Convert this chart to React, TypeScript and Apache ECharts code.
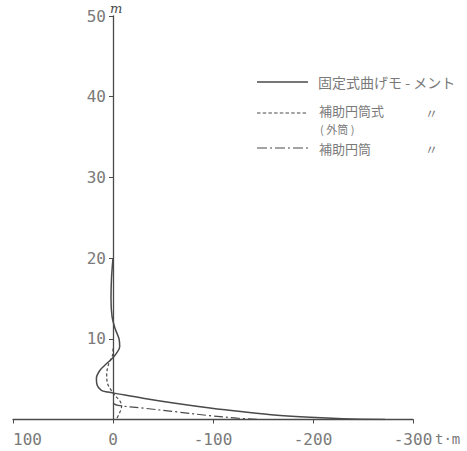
import React, { useEffect, useRef } from "react";
import * as echarts from "echarts";

// moment values (t·m) vs height (m)
const fixedMoment: [number, number][] = [
  [0, 20], [1.5, 17.5], [2, 15], [1, 12.8], [-2, 11.3], [-6, 10], [-6.7, 9.0],
  [-3.4, 8.2], [0.6, 7.6], [6.6, 6.9], [13, 6.1], [16.6, 5.1], [16, 4.3],
  [11.6, 3.6], [5, 3.4], [0, 3.3], [-30, 2.64], [-64, 1.98], [-97, 1.42],
  [-130, 0.95], [-164, 0.53], [-197, 0.27], [-230, 0.1], [-272, 0],
];
const outerCylinder: [number, number][] = [
  [0, 8.8], [0.2, 8.1], [4.3, 6.9], [6.3, 5.6], [5.3, 4.4], [0, 3.3],
  [-8.7, 1.7], [-3.7, 0.1],
];
const auxCylinder: [number, number][] = [
  [0, 2.0], [-5, 1.75], [-30, 1.41], [-64, 0.94], [-97, 0.47], [-124, 0.17], [-145, 0],
];

const legendNames = ["固定式曲げモ - メント", "補助円筒式", "補助円筒"];
const legendSub = "( 外筒 )";
const ditto = "〃";
const yUnit = "m";
const xUnit = "t·m";

const LINE = "#4a4a4a";
const TXT = "#7a7a7a";
const NUMFONT = "DejaVu Sans Mono";
const CJK = "Noto Sans CJK JP";

export default function App() {
  const ref = useRef<HTMLDivElement>(null);
  useEffect(() => {
    const chart = echarts.init(ref.current!, undefined, { renderer: "svg" });
    chart.setOption({
      animation: false,
      backgroundColor: "#fff",
      grid: {
        left: 13,
        right: 54,
        top: 16,
        bottom: 31.5,
        containLabel: false,
        outerBoundsMode: "none",
      },
      xAxis: {
        type: "value",
        min: -300,
        max: 100,
        interval: 100,
        inverse: true,
        splitLine: { show: false },
        axisLine: { onZero: true, lineStyle: { color: LINE, width: 1.3 } },
        axisTick: { show: true, length: 4, lineStyle: { color: LINE } },
        axisLabel: {
          color: TXT,
          fontFamily: NUMFONT,
          fontSize: 16,
          margin: 12,
          alignMaxLabel: "left",
          formatter: (v: number) => String(v),
        },
      },
      yAxis: {
        type: "value",
        min: 0,
        max: 50,
        interval: 10,
        offset: -100,
        splitLine: { show: false },
        axisLine: { onZero: false, lineStyle: { color: LINE, width: 1.3 } },
        axisTick: { show: true, length: 4, lineStyle: { color: LINE } },
        axisLabel: {
          color: TXT,
          fontFamily: NUMFONT,
          fontSize: 16,
          margin: 7,
          formatter: (v: number) => (v === 0 ? "" : String(v)),
        },
      },
      series: [
        {
          type: "line",
          name: legendNames[0],
          data: fixedMoment,
          smooth: 0.35,
          symbol: "none",
          lineStyle: { color: LINE, width: 1.5 },
        },
        {
          type: "line",
          name: legendNames[1],
          data: outerCylinder,
          smooth: 0.35,
          symbol: "none",
          lineStyle: { color: LINE, width: 1.2, type: [3, 2.2] },
        },
        {
          type: "line",
          name: legendNames[2],
          data: auxCylinder,
          smooth: 0.35,
          symbol: "none",
          lineStyle: { color: LINE, width: 1.2, type: [9, 3, 2, 3] },
        },
      ],
      graphic: [
        { type: "text", x: 110, y: 2, style: { text: yUnit, font: "italic 13px 'DejaVu Serif'", fill: LINE } },
        { type: "text", x: 435, y: 432, style: { text: xUnit, font: `14px '${NUMFONT}'`, fill: TXT } },
        // legend
        { type: "line", shape: { x1: 257, y1: 82, x2: 308, y2: 82 }, style: { stroke: LINE, lineWidth: 1.5 } },
        { type: "text", x: 318, y: 82, style: { text: legendNames[0], font: `14px '${CJK}'`, fill: TXT, verticalAlign: "middle" } },
        { type: "line", shape: { x1: 257, y1: 113, x2: 308, y2: 113 }, style: { stroke: LINE, lineWidth: 1.2, lineDash: [3.5, 2.2] } },
        { type: "text", x: 319, y: 110, style: { text: legendNames[1], font: `13px '${CJK}'`, fill: TXT, verticalAlign: "middle" } },
        { type: "text", x: 320, y: 128.5, style: { text: legendSub, font: `11px '${CJK}'`, fill: TXT, verticalAlign: "middle" } },
        { type: "text", x: 425, y: 112, style: { text: ditto, font: `13px '${CJK}'`, fill: TXT, verticalAlign: "middle" } },
        { type: "line", shape: { x1: 257, y1: 148, x2: 308, y2: 148 }, style: { stroke: LINE, lineWidth: 1.2, lineDash: [10, 3, 2, 3] } },
        { type: "text", x: 319, y: 148, style: { text: legendNames[2], font: `13px '${CJK}'`, fill: TXT, verticalAlign: "middle" } },
        { type: "text", x: 425, y: 148, style: { text: ditto, font: `13px '${CJK}'`, fill: TXT, verticalAlign: "middle" } },
      ],
    });
    return () => chart.dispose();
  }, []);
  return (
    <div
      ref={ref}
      style={{ position: "fixed", left: 0, top: 0, width: 467, height: 451, background: "#fff" }}
    />
  );
}
